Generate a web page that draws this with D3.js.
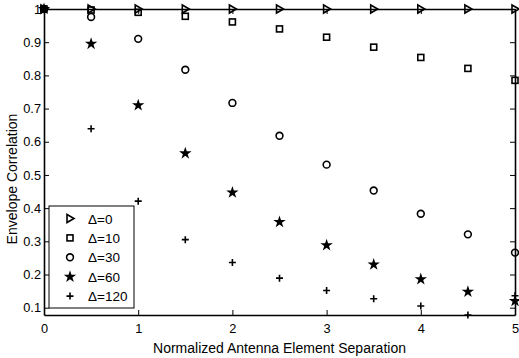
<!DOCTYPE html>
<head>
  <meta charset="utf-8">
  <title>Envelope Correlation</title>
  <script src="https://cdn.jsdelivr.net/npm/d3@7"></script>
  <style>
  body { margin: 0; background: #fff; }
  text { font-family: "Liberation Sans", Arial, sans-serif; fill: #000; }
  </style>
</head>
<body>
  <script>

    // Data
    var separation = [0, 0.5, 1, 1.5, 2, 2.5, 3, 3.5, 4, 4.5, 5];
    var d0   = [1, 1, 1, 1, 1, 1, 1, 1, 1, 1, 1];
    var d10  = [1, 0.997, 0.99, 0.978, 0.961, 0.94, 0.915, 0.885, 0.854, 0.821, 0.785];
    var d30  = [1, 0.976, 0.91, 0.817, 0.717, 0.618, 0.531, 0.453, 0.383, 0.321, 0.266];
    var d60  = [1, 0.895, 0.71, 0.565, 0.447, 0.358, 0.288, 0.23, 0.186, 0.148, 0.12];
    var d120 = [1, 0.639, 0.421, 0.305, 0.236, 0.189, 0.152, 0.127, 0.105, 0.078, 0.136];
    var seriesNames = ["\u0394=0", "\u0394=10", "\u0394=30", "\u0394=60", "\u0394=120"];
    var xTicks = [0, 1, 2, 3, 4, 5];
    var yTicks = [0.1, 0.2, 0.3, 0.4, 0.5, 0.6, 0.7, 0.8, 0.9, 1];

    var series = [d0, d10, d30, d60, d120];
    var markers = ["tri", "square", "circle", "star", "plus"];

    var margin = {top: 9, right: 4, bottom: 43, left: 44},
      width = 519 - margin.left - margin.right,
      height = 358 - margin.top - margin.bottom;

    var x = d3.scaleLinear().domain([0, 5]).range([0, width]);
    var y = d3.scaleLinear().domain([0.078, 1]).range([height, 0]);

    var svg = d3.select("body").append("svg")
      .attr("width", 519)
      .attr("height", 358)
      .append("g")
      .attr("transform", "translate(" + margin.left + "," + margin.top + ")");

    // Axes with inward ticks on all four sides
    var fmt = function(d) { return d === 1 ? "1" : d3.format(".1f")(d); };
    svg.append("g")
      .attr("transform", "translate(0," + height + ")")
      .call(d3.axisBottom(x).tickValues(xTicks).tickSizeInner(-5).tickSizeOuter(0).tickPadding(9).tickFormat(d3.format("d")));
    svg.append("g")
      .call(d3.axisTop(x).tickValues(xTicks).tickSizeInner(-5).tickSizeOuter(0).tickFormat(""));
    svg.append("g")
      .call(d3.axisLeft(y).tickValues(yTicks).tickSizeInner(-5).tickSizeOuter(0).tickPadding(3).tickFormat(fmt));
    svg.append("g")
      .attr("transform", "translate(" + width + ",0)")
      .call(d3.axisRight(y).tickValues(yTicks).tickSizeInner(-5).tickSizeOuter(0).tickFormat(""));

    svg.selectAll(".domain").attr("stroke", "#000").attr("stroke-width", 1.6);
    svg.selectAll(".tick line").attr("stroke", "#000").attr("stroke-width", 1);
    svg.selectAll(".tick text").attr("font-size", 12.8).attr("font-family", "Liberation Sans, Arial, sans-serif");

    // Marker shapes
    function drawMarker(g, type) {
      if (type === "tri") {
        g.append("path").attr("d", "M-3,-4L4,0L-3,4Z")
          .attr("fill", "none").attr("stroke", "#000").attr("stroke-width", 1.6);
      } else if (type === "square") {
        g.append("rect").attr("x", -3).attr("y", -3).attr("width", 6).attr("height", 6)
          .attr("fill", "none").attr("stroke", "#000").attr("stroke-width", 1.6);
      } else if (type === "circle") {
        g.append("circle").attr("r", 3.4)
          .attr("fill", "none").attr("stroke", "#000").attr("stroke-width", 1.6);
      } else if (type === "star") {
        g.append("path").attr("d", d3.symbol().type(d3.symbolStar).size(48))
          .attr("fill", "#000");
      } else {
        g.append("path").attr("d", "M-3.5,0H3.5M0,-3.5V3.5")
          .attr("stroke", "#000").attr("stroke-width", 1.6);
      }
    }

    // Points
    series.forEach(function(vals, i) {
      svg.append("g").selectAll("g")
        .data(vals)
        .enter().append("g")
        .attr("transform", function(d, j) { return "translate(" + x(separation[j]) + "," + y(d) + ")"; })
        .each(function() { drawMarker(d3.select(this), markers[i]); });
    });

    // Legend
    var legend = svg.append("g").attr("transform", "translate(5,197)");
    legend.append("rect")
      .attr("width", 85).attr("height", 102)
      .attr("fill", "#fff").attr("stroke", "#000").attr("stroke-width", 1);
    seriesNames.forEach(function(name, i) {
      var row = legend.append("g").attr("transform", "translate(21," + (12.5 + i * 19.4) + ")");
      drawMarker(row, markers[i]);
      row.append("text").attr("x", 18).attr("y", 5).attr("font-size", 13.5).text(name);
    });

    // Axis labels
    svg.append("text")
      .attr("x", width / 2)
      .attr("y", height + 38)
      .attr("text-anchor", "middle")
      .attr("font-size", 14)
      .text("Normalized Antenna Element Separation");

    svg.append("text")
      .attr("transform", "translate(-27," + (179 - margin.top) + ") rotate(-90)")
      .attr("text-anchor", "middle")
      .attr("font-size", 14)
      .text("Envelope Correlation");

  </script>
</body>
</html>
